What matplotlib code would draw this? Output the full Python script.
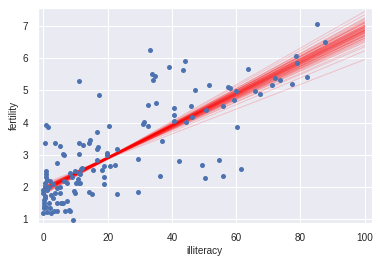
import matplotlib
matplotlib.use("Agg")
import matplotlib.pyplot as plt
import seaborn as sns
import numpy as np

sns.set_theme(style="darkgrid")
plt.rcParams['font.family'] = ['Liberation Sans', 'DejaVu Sans']

illiteracy = [85.3, 87.8, 78.5, 78.8, 63.8, 72.2, 73.8, 82.2, 71.3, 77.5,
              66.0, 67.3, 60.1, 59.2, 58.1, 60.4, 61.6,
              39.1, 44.2, 43.3, 51.4, 47.3, 57.6, 40.5, 45.8, 40.8, 46.4,
              40.5, 44.5, 50.7, 56.0,
              33.9, 34.6, 34.2, 17.4, 32.4, 34.9, 31.4, 31.1, 32.4, 20.5,
              37.0, 23.0, 19.9,
              11.2, 0.9, 1.5, 16.8, 0.6, 3.7, 5.0, 11.2, 12.4, 14.3, 14.6,
              16.8, 17.1, 6.2, 11.2,
              19.9, 29.3, 16.8, 19.0, 20.8, 22.4, 18.3, 15.5, 18.7, 19.0,
              14.3, 15.2, 23.0, 29.3, 12.1, 11.2, 11.4,
              36.4, 42.3, 49.5, 50.4, 54.8, 56.0, 33.3,
              6.5, 4.3, 0.9, 0.9, 0.9, 1.2, 2.1, 3.1, 0.6, 0.0, 0.0, 0.6,
              0.3, 0.3, 0.0, 1.2, 1.8, 2.1, 3.1, 3.7, 4.3, 5.3, 5.0, 5.6,
              4.3, 3.4, 4.3, 6.8, 8.1, 8.4, 2.5, 7.4, 6.2, 9.3, 9.0, 8.4,
              9.9, 10.2, 9.6, 9.9, 11.5, 10.9, 11.2, 11.8, 7.4, 6.5, 1.8,
              2.5, 0.2, 0.5, 0.1, 0.8, 1.0, 0.4]
fertility = [7.06, 6.50, 6.06, 5.85, 5.66, 5.38, 5.32, 5.41, 5.16, 5.19,
             4.98, 4.88, 4.98, 4.70, 5.09, 3.86, 2.55,
             5.73, 5.91, 5.63, 5.16, 5.01, 5.10, 4.45, 4.51, 4.23, 4.17,
             4.04, 4.01, 4.39, 4.51,
             5.50, 5.44, 5.32, 4.86, 4.54, 4.60, 4.01, 3.95, 3.89, 3.89,
             3.42, 3.17, 3.05,
             5.29, 3.92, 3.86, 3.70, 3.36, 3.36, 3.27, 3.36, 3.30, 3.36, 3.45,
             3.17, 3.24, 3.02, 3.02,
             2.99, 2.86, 2.83, 2.65, 2.65, 2.68, 2.52, 2.52, 2.30, 2.09,
             1.84, 1.78, 1.78, 1.84, 2.58, 2.12, 2.40,
             2.34, 2.80, 2.68, 2.27, 2.83, 2.34, 6.25,
             2.99, 2.74, 2.49, 2.40, 2.30, 2.21, 2.18, 2.09, 2.12, 1.90, 1.81, 1.65,
             1.50, 1.34, 1.19, 1.24, 1.50, 1.34, 1.65, 1.81, 1.96, 1.99, 1.81, 1.50,
             1.50, 1.25, 1.25, 1.25, 1.28, 1.25, 1.19, 1.56, 1.50, 0.97, 2.30, 2.43,
             2.49, 2.12, 1.87, 1.81, 2.12, 2.24, 2.43, 2.55, 2.12, 2.18, 1.99,
             1.75, 1.42, 1.72, 1.60, 1.38, 1.90, 2.02]

intercepts = [1.922, 1.854, 1.975, 1.903, 1.940, 1.884, 1.901, 1.980, 1.774, 2.005,
              1.922, 1.848, 1.931, 1.848, 1.944, 1.945, 1.867, 2.002, 1.929, 1.908,
              1.789, 1.936, 2.004, 1.838, 1.907, 1.857, 1.912, 1.892, 2.012, 1.938,
              1.835, 1.959, 1.878, 1.799, 1.943, 1.967, 1.901, 1.879, 2.054, 1.863,
              1.966, 1.877, 1.962, 1.808, 1.970, 1.906, 1.909, 1.869, 1.953, 2.110,
              1.914, 1.876, 1.998, 1.824, 1.925, 1.913, 2.050, 1.900, 1.770, 1.993]
slopes = [0.0490, 0.0512, 0.0475, 0.0503, 0.0468, 0.0521, 0.0495, 0.0482, 0.0539, 0.0457,
          0.0499, 0.0510, 0.0486, 0.0528, 0.0471, 0.0493, 0.0515, 0.0449, 0.0505, 0.0478,
          0.0546, 0.0488, 0.0462, 0.0519, 0.0497, 0.0533, 0.0481, 0.0508, 0.0440, 0.0492,
          0.0525, 0.0473, 0.0501, 0.0555, 0.0485, 0.0465, 0.0513, 0.0496, 0.0430, 0.0517,
          0.0479, 0.0506, 0.0490, 0.0542, 0.0459, 0.0502, 0.0487, 0.0523, 0.0476, 0.0385,
          0.0498, 0.0511, 0.0469, 0.0530, 0.0484, 0.0494, 0.0418, 0.0509, 0.0568, 0.0453]

line_x = np.array([0, 100])

fig = plt.figure(figsize=(381 / 72, 265 / 72), dpi=72)
ax = fig.add_axes([38 / 381, (265 - 223.3) / 265, 333.7 / 381, 215.3 / 265])

for a, b in zip(intercepts, slopes):
    ax.plot(line_x, a + b * line_x, color='red', alpha=0.18, lw=1, zorder=2)

ax.scatter(illiteracy, fertility, s=25, color='#4C72B0', linewidths=0, zorder=3)

ax.set_xlim(-1.7, 102.2)
ax.set_ylim(0.876, 7.56)
ax.set_xticks([0, 20, 40, 60, 80, 100])
ax.set_yticks([1, 2, 3, 4, 5, 6, 7])
ax.tick_params(labelsize=10, pad=4)
ax.set_xlabel('illiteracy', fontsize=10, labelpad=3)
ax.set_ylabel('fertility', fontsize=10, labelpad=4)

fig.savefig('out.png', dpi=72)
